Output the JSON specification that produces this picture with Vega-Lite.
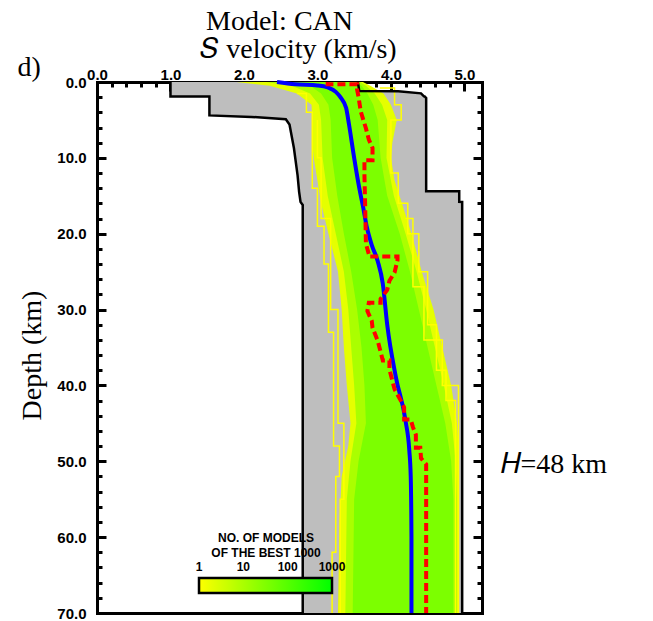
{
  "$schema": "https://vega.github.io/schema/vega-lite/v6.json",
  "width": 385,
  "height": 531,
  "autosize": "none",
  "padding": {"left": 97, "top": 82, "right": 171, "bottom": 8},
  "background": "white",
  "config": {
    "view": {"stroke": null},
    "axis": {"grid": false, "zindex": 1, "tickColor": "black", "domainColor": "black", "labelColor": "black", "titleColor": "black", "tickWidth": 3, "domainWidth": 3, "domainCap": "square", "labelFlush": false, "labelOverlap": false, "titleFont": "Liberation Serif", "titleFontSize": 28, "titleFontWeight": "normal", "labelFont": "Liberation Sans", "labelFontSize": 15, "labelFontWeight": "bold"}
  },
  "datasets": {
    "env": [
      {"depth": 0, "lo": 1.0, "hi": 3.55},
      {"depth": 1.2, "lo": 1.0, "hi": 3.57},
      {"depth": 1.21, "lo": 1.0, "hi": 4.1},
      {"depth": 1.5, "lo": 1.0, "hi": 4.41},
      {"depth": 1.9, "lo": 1.0, "hi": 4.45},
      {"depth": 1.91, "lo": 1.53, "hi": 4.46},
      {"depth": 2.1, "lo": 1.53, "hi": 4.48},
      {"depth": 4.4, "lo": 1.53, "hi": 4.48},
      {"depth": 4.6, "lo": 2.1, "hi": 4.48},
      {"depth": 4.9, "lo": 2.57, "hi": 4.48},
      {"depth": 5.6, "lo": 2.62, "hi": 4.48},
      {"depth": 8.7, "lo": 2.68, "hi": 4.48},
      {"depth": 12.3, "lo": 2.73, "hi": 4.48},
      {"depth": 14.4, "lo": 2.75, "hi": 4.48},
      {"depth": 14.41, "lo": 2.75, "hi": 4.93},
      {"depth": 15.8, "lo": 2.77, "hi": 4.93},
      {"depth": 15.81, "lo": 2.77, "hi": 4.97},
      {"depth": 16.2, "lo": 2.8, "hi": 4.97},
      {"depth": 70, "lo": 2.8, "hi": 4.97}
    ],
    "band": [
      {"band": "outer", "count": 2, "depth": 0, "lo": 1.9, "hi": 3.62},
      {"band": "outer", "count": 2, "depth": 0.5, "lo": 2.35, "hi": 3.72},
      {"band": "outer", "count": 2, "depth": 1.5, "lo": 2.72, "hi": 3.9},
      {"band": "outer", "count": 2, "depth": 3, "lo": 2.92, "hi": 4.0},
      {"band": "outer", "count": 2, "depth": 5, "lo": 2.93, "hi": 4.08},
      {"band": "outer", "count": 2, "depth": 8, "lo": 2.93, "hi": 4.02},
      {"band": "outer", "count": 2, "depth": 10, "lo": 2.95, "hi": 4.0},
      {"band": "outer", "count": 2, "depth": 13, "lo": 3.0, "hi": 4.05},
      {"band": "outer", "count": 2, "depth": 16, "lo": 3.05, "hi": 4.15},
      {"band": "outer", "count": 2, "depth": 20, "lo": 3.15, "hi": 4.28},
      {"band": "outer", "count": 2, "depth": 25, "lo": 3.28, "hi": 4.42},
      {"band": "outer", "count": 2, "depth": 30, "lo": 3.33, "hi": 4.58},
      {"band": "outer", "count": 2, "depth": 35, "lo": 3.36, "hi": 4.7},
      {"band": "outer", "count": 2, "depth": 40, "lo": 3.4, "hi": 4.82},
      {"band": "outer", "count": 2, "depth": 45, "lo": 3.45, "hi": 4.9},
      {"band": "outer", "count": 2, "depth": 48, "lo": 3.42, "hi": 4.92},
      {"band": "outer", "count": 2, "depth": 52, "lo": 3.33, "hi": 4.92},
      {"band": "outer", "count": 2, "depth": 58, "lo": 3.3, "hi": 4.92},
      {"band": "outer", "count": 2, "depth": 70, "lo": 3.28, "hi": 4.92},
      {"band": "mid", "count": 10, "depth": 0, "lo": 2.3, "hi": 3.58},
      {"band": "mid", "count": 10, "depth": 0.5, "lo": 2.65, "hi": 3.66},
      {"band": "mid", "count": 10, "depth": 1.5, "lo": 2.9, "hi": 3.78},
      {"band": "mid", "count": 10, "depth": 3, "lo": 3.02, "hi": 3.88},
      {"band": "mid", "count": 10, "depth": 5, "lo": 3.05, "hi": 3.95},
      {"band": "mid", "count": 10, "depth": 10, "lo": 3.07, "hi": 3.94},
      {"band": "mid", "count": 10, "depth": 15, "lo": 3.14, "hi": 4.04},
      {"band": "mid", "count": 10, "depth": 20, "lo": 3.25, "hi": 4.2},
      {"band": "mid", "count": 10, "depth": 25, "lo": 3.36, "hi": 4.35},
      {"band": "mid", "count": 10, "depth": 30, "lo": 3.42, "hi": 4.48},
      {"band": "mid", "count": 10, "depth": 35, "lo": 3.46, "hi": 4.6},
      {"band": "mid", "count": 10, "depth": 40, "lo": 3.5, "hi": 4.72},
      {"band": "mid", "count": 10, "depth": 45, "lo": 3.53, "hi": 4.83},
      {"band": "mid", "count": 10, "depth": 50, "lo": 3.45, "hi": 4.88},
      {"band": "mid", "count": 10, "depth": 55, "lo": 3.4, "hi": 4.9},
      {"band": "mid", "count": 10, "depth": 70, "lo": 3.38, "hi": 4.9},
      {"band": "core", "count": 35, "depth": 0, "lo": 2.6, "hi": 3.52},
      {"band": "core", "count": 35, "depth": 0.5, "lo": 2.9, "hi": 3.6},
      {"band": "core", "count": 35, "depth": 1.5, "lo": 3.05, "hi": 3.68},
      {"band": "core", "count": 35, "depth": 3, "lo": 3.15, "hi": 3.76},
      {"band": "core", "count": 35, "depth": 5, "lo": 3.18, "hi": 3.82},
      {"band": "core", "count": 35, "depth": 10, "lo": 3.2, "hi": 3.86},
      {"band": "core", "count": 35, "depth": 15, "lo": 3.27, "hi": 3.95},
      {"band": "core", "count": 35, "depth": 20, "lo": 3.36, "hi": 4.12},
      {"band": "core", "count": 35, "depth": 25, "lo": 3.46, "hi": 4.26},
      {"band": "core", "count": 35, "depth": 30, "lo": 3.54, "hi": 4.38},
      {"band": "core", "count": 35, "depth": 35, "lo": 3.6, "hi": 4.5},
      {"band": "core", "count": 35, "depth": 40, "lo": 3.64, "hi": 4.62},
      {"band": "core", "count": 35, "depth": 45, "lo": 3.66, "hi": 4.74},
      {"band": "core", "count": 35, "depth": 50, "lo": 3.56, "hi": 4.82},
      {"band": "core", "count": 35, "depth": 55, "lo": 3.5, "hi": 4.85},
      {"band": "core", "count": 35, "depth": 70, "lo": 3.48, "hi": 4.85}
    ],
    "yellow": [
      {"id": "L1", "v": 2.72, "depth": 1.5}, {"id": "L1", "v": 2.85, "depth": 1.5}, {"id": "L1", "v": 2.85, "depth": 4}, {"id": "L1", "v": 2.93, "depth": 4}, {"id": "L1", "v": 2.93, "depth": 14}, {"id": "L1", "v": 3.0, "depth": 14}, {"id": "L1", "v": 3.0, "depth": 19}, {"id": "L1", "v": 3.09, "depth": 19}, {"id": "L1", "v": 3.09, "depth": 24}, {"id": "L1", "v": 3.15, "depth": 24}, {"id": "L1", "v": 3.15, "depth": 33}, {"id": "L1", "v": 3.22, "depth": 33}, {"id": "L1", "v": 3.22, "depth": 48}, {"id": "L1", "v": 3.3, "depth": 48}, {"id": "L1", "v": 3.3, "depth": 52}, {"id": "L1", "v": 3.25, "depth": 52}, {"id": "L1", "v": 3.25, "depth": 62}, {"id": "L1", "v": 3.2, "depth": 62}, {"id": "L1", "v": 3.2, "depth": 70},
      {"id": "L2", "v": 3.0, "depth": 5}, {"id": "L2", "v": 3.0, "depth": 10}, {"id": "L2", "v": 3.05, "depth": 10}, {"id": "L2", "v": 3.05, "depth": 18}, {"id": "L2", "v": 3.18, "depth": 18}, {"id": "L2", "v": 3.18, "depth": 30}, {"id": "L2", "v": 3.28, "depth": 30}, {"id": "L2", "v": 3.28, "depth": 45}, {"id": "L2", "v": 3.36, "depth": 45}, {"id": "L2", "v": 3.36, "depth": 55}, {"id": "L2", "v": 3.31, "depth": 55}, {"id": "L2", "v": 3.31, "depth": 70},
      {"id": "R1", "v": 3.85, "depth": 0.8}, {"id": "R1", "v": 4.05, "depth": 0.8}, {"id": "R1", "v": 4.05, "depth": 3}, {"id": "R1", "v": 4.14, "depth": 3}, {"id": "R1", "v": 4.14, "depth": 5}, {"id": "R1", "v": 4.0, "depth": 5}, {"id": "R1", "v": 4.0, "depth": 12}, {"id": "R1", "v": 4.1, "depth": 12}, {"id": "R1", "v": 4.1, "depth": 16}, {"id": "R1", "v": 4.23, "depth": 16}, {"id": "R1", "v": 4.23, "depth": 20}, {"id": "R1", "v": 4.38, "depth": 20}, {"id": "R1", "v": 4.38, "depth": 25}, {"id": "R1", "v": 4.5, "depth": 25}, {"id": "R1", "v": 4.5, "depth": 32}, {"id": "R1", "v": 4.62, "depth": 32}, {"id": "R1", "v": 4.62, "depth": 38}, {"id": "R1", "v": 4.75, "depth": 38}, {"id": "R1", "v": 4.75, "depth": 42}, {"id": "R1", "v": 4.88, "depth": 42}, {"id": "R1", "v": 4.88, "depth": 70},
      {"id": "R2", "v": 4.2, "depth": 18}, {"id": "R2", "v": 4.3, "depth": 18}, {"id": "R2", "v": 4.3, "depth": 27}, {"id": "R2", "v": 4.45, "depth": 27}, {"id": "R2", "v": 4.45, "depth": 34}, {"id": "R2", "v": 4.7, "depth": 34}, {"id": "R2", "v": 4.7, "depth": 40}, {"id": "R2", "v": 4.92, "depth": 40}, {"id": "R2", "v": 4.92, "depth": 70}
    ],
    "blue": [
      {"v": 2.45, "depth": 0}, {"v": 2.7, "depth": 0.3}, {"v": 3.0, "depth": 0.45}, {"v": 3.14, "depth": 0.7}, {"v": 3.25, "depth": 1.3}, {"v": 3.32, "depth": 2.1}, {"v": 3.39, "depth": 3.4}, {"v": 3.43, "depth": 5.6}, {"v": 3.5, "depth": 10.0}, {"v": 3.57, "depth": 14.0}, {"v": 3.62, "depth": 16.4}, {"v": 3.67, "depth": 19.0}, {"v": 3.74, "depth": 21.5}, {"v": 3.82, "depth": 23.6}, {"v": 3.89, "depth": 26.6}, {"v": 3.95, "depth": 32.0}, {"v": 4.07, "depth": 39.0}, {"v": 4.2, "depth": 44.7}, {"v": 4.25, "depth": 48.5}, {"v": 4.27, "depth": 52}, {"v": 4.28, "depth": 60}, {"v": 4.28, "depth": 70}
    ],
    "red": [
      {"v": 3.14, "depth": 0}, {"v": 3.14, "depth": 0.3}, {"v": 3.54, "depth": 0.3}, {"v": 3.54, "depth": 1.0}, {"v": 3.56, "depth": 2.0}, {"v": 3.59, "depth": 3.9}, {"v": 3.66, "depth": 6.1}, {"v": 3.7, "depth": 7.6}, {"v": 3.75, "depth": 8.7}, {"v": 3.75, "depth": 10.3}, {"v": 3.64, "depth": 10.3}, {"v": 3.64, "depth": 12.3}, {"v": 3.65, "depth": 16.4}, {"v": 3.66, "depth": 21.3}, {"v": 3.7, "depth": 22.7}, {"v": 3.7, "depth": 23.0}, {"v": 4.09, "depth": 23.0}, {"v": 4.09, "depth": 23.5}, {"v": 4.05, "depth": 25.1}, {"v": 3.98, "depth": 26.2}, {"v": 3.95, "depth": 27.4}, {"v": 3.86, "depth": 28.6}, {"v": 3.86, "depth": 29.1}, {"v": 3.7, "depth": 29.1}, {"v": 3.68, "depth": 30.2}, {"v": 3.74, "depth": 31.5}, {"v": 3.75, "depth": 32.4}, {"v": 3.82, "depth": 34.1}, {"v": 3.89, "depth": 36.7}, {"v": 3.98, "depth": 36.7}, {"v": 3.98, "depth": 37.9}, {"v": 4.05, "depth": 40.5}, {"v": 4.14, "depth": 42.1}, {"v": 4.18, "depth": 42.9}, {"v": 4.18, "depth": 44.5}, {"v": 4.27, "depth": 44.5}, {"v": 4.3, "depth": 45.5}, {"v": 4.34, "depth": 46.5}, {"v": 4.34, "depth": 48.2}, {"v": 4.4, "depth": 48.2}, {"v": 4.41, "depth": 49.6}, {"v": 4.48, "depth": 50.4}, {"v": 4.48, "depth": 70}
    ]
  },
  "resolve": {"axis": {"x": "independent", "y": "independent"}},
  "layer": [
    {
      "data": {"name": "env"},
      "mark": {"type": "area", "orient": "horizontal", "color": "#bebebe", "interpolate": "linear"},
      "encoding": {
        "y": {"field": "depth", "type": "quantitative", "scale": {"domain": [0, 70], "reverse": true, "nice": false, "zero": false},
          "axis": {"orient": "left", "values": [0, 10, 20, 30, 40, 50, 60, 70], "format": ".1f", "tickSize": -9, "labelPadding": 20, "labelFontSize": 15, "domain": true,
            "title": "Depth (km)", "titleAngle": -90, "titleX": -57, "titleY": 273, "titleAlign": "center", "titleBaseline": "alphabetic"}},
        "x": {"field": "lo", "type": "quantitative", "scale": {"domain": [0, 5.24], "nice": false, "zero": false},
          "axis": {"orient": "top", "values": [0, 1, 2, 3, 4, 5], "format": ".1f", "tickSize": -9, "labelPadding": 9, "labelDx": 3, "labelFontSize": 15, "domain": true,
            "title": "𝑆 velocity (km/s)", "titleX": 201, "titleY": -25, "titleAlign": "center", "titleBaseline": "alphabetic", "titleAngle": 0}},
        "x2": {"field": "hi"}
      }
    },
    {
      "data": {"name": "band"},
      "transform": [{"filter": "datum.band == 'outer'"}],
      "mark": {"type": "area", "orient": "horizontal", "interpolate": "linear"},
      "encoding": {
        "y": {"field": "depth", "type": "quantitative",
          "axis": {"orient": "left", "values": [2, 4, 6, 8, 12, 14, 16, 18, 22, 24, 26, 28, 32, 34, 36, 38, 42, 44, 46, 48, 52, 54, 56, 58, 62, 64, 66, 68], "tickSize": -5, "labels": false, "domain": false,
            "title": "d)", "titleAngle": 0, "titleX": -80, "titleY": -7, "titleAlign": "left", "titleBaseline": "alphabetic"}},
        "x": {"field": "lo", "type": "quantitative",
          "axis": {"orient": "top", "values": [0.2, 0.4, 0.6, 0.8, 1.2, 1.4, 1.6, 1.8, 2.2, 2.4, 2.6, 2.8, 3.2, 3.4, 3.6, 3.8, 4.2, 4.4, 4.6, 4.8], "tickSize": -5, "labels": false, "domain": false,
            "title": "Model: CAN", "titleX": 182, "titleY": -53, "titleAlign": "center", "titleBaseline": "alphabetic", "titleAngle": 0}},
        "x2": {"field": "hi"},
        "color": {"field": "count", "type": "quantitative",
          "scale": {"type": "log", "domain": [1, 1000], "range": ["#ffff00", "#00ff00"], "interpolate": "rgb"},
          "legend": {"orient": "none", "direction": "horizontal", "legendX": 102, "legendY": 451, "gradientLength": 133, "gradientThickness": 15,
            "title": ["NO. OF MODELS", "OF THE BEST 1000"], "titleFont": "Liberation Sans", "titleFontSize": 12, "titleFontWeight": "bold", "titleColor": "black", "titleAnchor": "middle", "titleAlign": "center", "titleLineHeight": 15, "titlePadding": 18,
            "values": [1, 10, 100, 1000], "format": "d", "labelFont": "Liberation Sans", "labelFontSize": 12, "labelFontWeight": "bold", "labelColor": "black", "labelOffset": -31,
            "gradientStrokeColor": "black", "gradientStrokeWidth": 2.5,
            "encode": {"labels": {"update": {"align": {"value": "center"}}}}}}
      }
    },
    {
      "data": {"name": "band"},
      "transform": [{"filter": "datum.band == 'mid'"}],
      "mark": {"type": "area", "orient": "horizontal", "interpolate": "linear"},
      "encoding": {
        "y": {"field": "depth", "type": "quantitative",
          "axis": {"orient": "right", "values": [10, 20, 30, 40, 50, 60], "tickSize": -9, "labels": false, "domain": true,
            "title": "𝐻=48 km", "titleAngle": 0, "titleX": 18, "titleY": 390, "titleAlign": "left", "titleBaseline": "alphabetic"}},
        "x": {"field": "lo", "type": "quantitative",
          "axis": {"orient": "bottom", "ticks": false, "labels": false, "domain": true, "title": null}},
        "x2": {"field": "hi"},
        "color": {"field": "count", "type": "quantitative", "legend": null}
      }
    },
    {
      "data": {"name": "band"},
      "transform": [{"filter": "datum.band == 'core'"}],
      "mark": {"type": "area", "orient": "horizontal", "interpolate": "linear"},
      "encoding": {
        "y": {"field": "depth", "type": "quantitative",
          "axis": {"orient": "right", "values": [2, 4, 6, 8, 12, 14, 16, 18, 22, 24, 26, 28, 32, 34, 36, 38, 42, 44, 46, 48, 52, 54, 56, 58, 62, 64, 66, 68], "tickSize": -5, "labels": false, "domain": false, "title": null}},
        "x": {"field": "lo", "type": "quantitative", "axis": null},
        "x2": {"field": "hi"},
        "color": {"field": "count", "type": "quantitative", "legend": null}
      }
    },
    {
      "data": {"name": "yellow"},
      "mark": {"type": "line", "color": "#ffff00", "strokeWidth": 1.5},
      "encoding": {
        "x": {"field": "v", "type": "quantitative", "axis": null},
        "y": {"field": "depth", "type": "quantitative", "axis": null},
        "detail": {"field": "id"},
        "order": {"value": null}
      }
    },
    {
      "data": {"name": "env"},
      "transform": [{"fold": ["lo", "hi"], "as": ["side", "v"]}],
      "mark": {"type": "line", "color": "black", "strokeWidth": 2.5},
      "encoding": {
        "x": {"field": "v", "type": "quantitative", "axis": null},
        "y": {"field": "depth", "type": "quantitative", "axis": null},
        "detail": {"field": "side"},
        "order": {"field": "depth", "type": "quantitative"}
      }
    },
    {
      "data": {"name": "blue"},
      "mark": {"type": "line", "color": "#0000ff", "strokeWidth": 4, "interpolate": "monotone"},
      "encoding": {
        "x": {"field": "v", "type": "quantitative", "axis": null},
        "y": {"field": "depth", "type": "quantitative", "axis": null},
        "order": {"value": null}
      }
    },
    {
      "data": {"name": "red"},
      "mark": {"type": "line", "color": "#ff0000", "strokeWidth": 4, "strokeDash": [8, 4]},
      "encoding": {
        "x": {"field": "v", "type": "quantitative", "axis": null},
        "y": {"field": "depth", "type": "quantitative", "axis": null},
        "order": {"value": null}
      }
    }
  ]
}
